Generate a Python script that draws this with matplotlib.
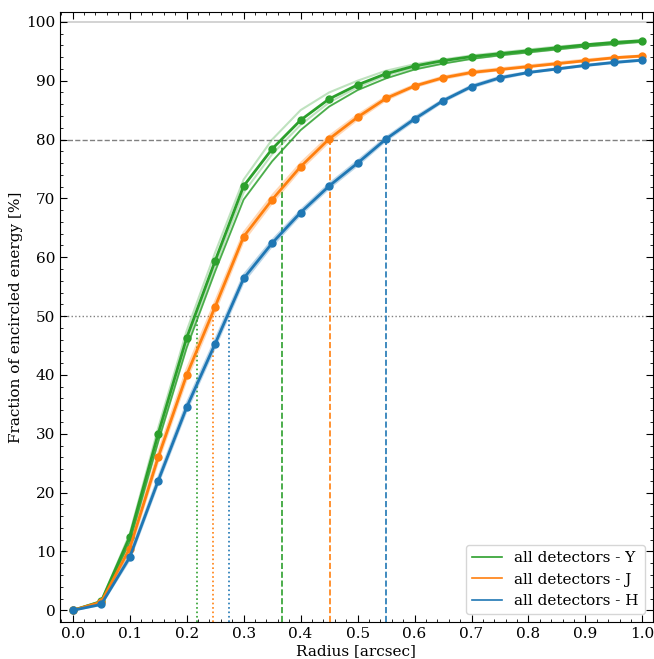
import matplotlib
matplotlib.use("Agg")
import matplotlib.pyplot as plt
from matplotlib.ticker import MultipleLocator

plt.rcParams['font.family'] = 'DejaVu Serif'
plt.rcParams['mathtext.fontset'] = 'dejavuserif'

radius = [0.0, 0.05, 0.1, 0.15, 0.2, 0.25, 0.3, 0.35, 0.4, 0.45, 0.5,
          0.55, 0.6, 0.65, 0.7, 0.75, 0.8, 0.85, 0.9, 0.95, 1.0]

# mean encircled energy per band [%]
ee_Y = [0, 1.5, 12.5, 30.0, 46.3, 59.4, 72.1, 78.4, 83.3, 86.9, 89.3,
        91.2, 92.5, 93.4, 94.1, 94.6, 95.1, 95.6, 96.1, 96.5, 96.8]
ee_J = [0, 1.4, 10.5, 26.0, 40.0, 51.6, 63.5, 69.8, 75.4, 80.1, 83.8,
        87.0, 89.1, 90.5, 91.4, 91.9, 92.4, 92.9, 93.4, 93.9, 94.2]
ee_H = [0, 1.0, 9.0, 22.0, 34.5, 45.3, 56.4, 62.4, 67.6, 72.1, 76.0,
        80.1, 83.5, 86.6, 89.0, 90.5, 91.4, 92.0, 92.6, 93.1, 93.5]

# individual detectors (faint lines)
det_Y = [
    [0, 1.6, 13.0, 31.0, 47.5, 60.8, 73.2, 80.0, 85.0, 88.0, 90.0,
     91.7, 92.8, 93.6, 94.3, 94.8, 95.3, 95.8, 96.2, 96.6, 96.9],
    [0, 1.5, 12.2, 29.4, 45.5, 58.5, 71.0, 77.5, 82.5, 86.3, 88.9,
     90.9, 92.2, 93.2, 93.9, 94.5, 95.0, 95.5, 96.0, 96.4, 96.7],
    [0, 1.4, 11.6, 28.6, 44.6, 57.6, 69.8, 76.3, 81.6, 85.6, 88.4,
     90.4, 91.9, 92.9, 93.7, 94.3, 94.8, 95.3, 95.8, 96.2, 96.6],
]
det_J = [
    [0, 1.5, 11.0, 26.8, 41.0, 52.5, 64.2, 70.5, 76.0, 80.6, 84.2,
     87.3, 89.3, 90.7, 91.6, 92.1, 92.6, 93.1, 93.6, 94.0, 94.3],
    [0, 1.3, 10.0, 25.3, 39.2, 50.8, 62.8, 69.2, 74.9, 79.6, 83.4,
     86.7, 88.9, 90.3, 91.2, 91.8, 92.3, 92.8, 93.3, 93.8, 94.1],
]
det_H = [
    [0, 1.1, 9.4, 22.6, 35.2, 46.0, 57.0, 62.9, 68.0, 72.5, 76.4,
     80.4, 83.8, 86.8, 89.2, 90.7, 91.5, 92.1, 92.7, 93.2, 93.6],
    [0, 0.9, 8.6, 21.5, 33.9, 44.7, 55.8, 61.9, 67.2, 71.7, 75.6,
     79.8, 83.2, 86.4, 88.8, 90.3, 91.3, 91.9, 92.5, 93.0, 93.4],
]

bands = ['Y', 'J', 'H']
colors = ['tab:green', 'tab:orange', 'tab:blue']
means = [ee_Y, ee_J, ee_H]
dets = [det_Y, det_J, det_H]

# radius at 50% and 80% encircled energy
r50 = [0.219, 0.247, 0.274]
r80 = [0.368, 0.452, 0.550]

fig = plt.figure(figsize=(6.54, 6.59), dpi=100)
ax = fig.add_axes([0.092, 0.056, 0.906, 0.926])

ax.axhline(100, color='0.8', lw=1.2, zorder=1)
ax.axhline(80, color='gray', ls='--', lw=1.0, zorder=1)
ax.axhline(50, color='gray', ls=':', lw=1.0, zorder=1)

for band, c, m, dd, a, b in zip(bands, colors, means, dets, r50, r80):
    for d in dd:
        ax.plot(radius, d, color=c, lw=1.5, alpha=0.3, zorder=2)
    ax.plot(radius, m, color=c, lw=2, marker='o', ms=5, zorder=3)
    ax.plot([], [], color=c, lw=1.2, label='all detectors - ' + band)
    ax.plot([a, a], [-2, 50], color=c, ls=':', lw=1.2, zorder=2)
    ax.plot([b, b], [-2, 80], color=c, ls='--', lw=1.2, zorder=2)

# the darker second Y line
ax.plot(radius, det_Y[2], color='tab:green', lw=1.2, alpha=0.8, zorder=2)

ax.set_xlim(-0.022, 1.018)
ax.set_ylim(-2, 101.7)
ax.xaxis.set_major_locator(MultipleLocator(0.1))
ax.xaxis.set_minor_locator(MultipleLocator(0.02))
ax.yaxis.set_major_locator(MultipleLocator(10))
ax.yaxis.set_minor_locator(MultipleLocator(2))
ax.tick_params(which='both', direction='in', top=True, right=True, labelsize=11)
ax.tick_params(which='major', length=5)
ax.tick_params(which='minor', length=2.5)
ax.set_xlabel('Radius [arcsec]', fontsize=11, labelpad=2)
ax.set_ylabel('Fraction of encircled energy [%]', fontsize=11, labelpad=2)
ax.legend(loc='lower right', fontsize=11)

fig.savefig('out.png', dpi=100)
